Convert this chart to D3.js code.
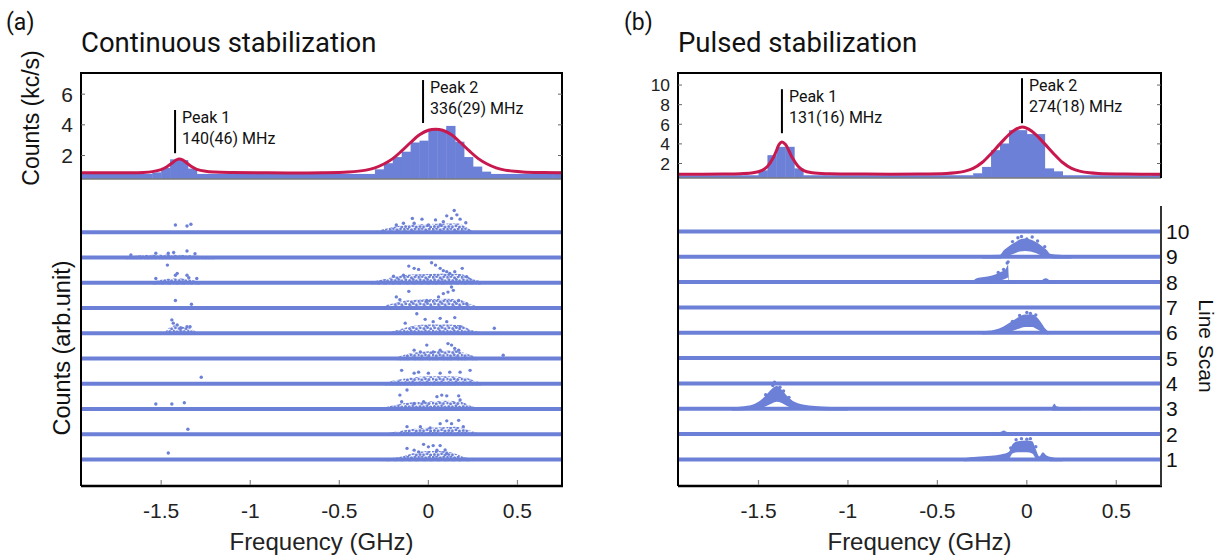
<!DOCTYPE html>
<html><head><meta charset="utf-8">
<script src="https://cdn.jsdelivr.net/npm/d3@7"></script>
<style>body{margin:0;background:#fff}svg{display:block}</style>
</head><body>
<svg id="c" width="1228" height="559"></svg>
<script>
// ---------------- DATA ----------------
const freqDomain = [-1.95, 0.75];
const xTicks = [-1.5, -1, -0.5, 0, 0.5];
const xTickLabels = ["-1.5", "-1", "-0.5", "0", "0.5"];
const yTicksA = [2, 4, 6];
const yTicksB = [2, 4, 6, 8, 10];
const scanIds = [1, 2, 3, 4, 5, 6, 7, 8, 9, 10];

// histogram (kc/s), bin edges in GHz
const histEdgesA = [-1.95, -1.55, -1.50, -1.45, -1.40, -1.35, -1.30, -0.30, -0.25, -0.20, -0.15, -0.10, -0.05, 0.0, 0.05, 0.10, 0.15, 0.20, 0.25, 0.30, 0.35, 0.70, 0.75];
const histCountsA = [0.8, 0.9, 1.2, 1.75, 1.7, 1.15, 0.8, 1.1, 1.5, 1.9, 2.25, 2.85, 2.97, 3.67, 3.67, 3.93, 2.9, 1.9, 1.28, 0.95, 0.8, 0.95];
const histEdgesB = [-1.95, -1.50, -1.45, -1.40, -1.35, -1.30, -1.25, -0.30, -0.25, -0.20, -0.15, -0.10, -0.05, 0.0, 0.05, 0.10, 0.15, 0.20, 0.70, 0.75];
const histCountsB = [0.8, 1.3, 2.85, 3.7, 3.7, 1.5, 0.8, 1.0, 1.65, 3.36, 4.04, 5.4, 5.4, 5.0, 5.0, 1.5, 1.2, 0.8, 0.95];

// fit curves [GHz, kc/s]
const fitA = [[-1.95,0.87],[-1.7,0.88],[-1.6,0.9],[-1.55,0.95],[-1.5,1.08],[-1.47,1.25],[-1.44,1.5],[-1.42,1.68],[-1.40,1.78],[-1.38,1.72],[-1.36,1.55],[-1.33,1.28],[-1.30,1.1],[-1.25,0.97],[-1.2,0.92],[-1.1,0.89],[-0.9,0.87],[-0.6,0.88],[-0.45,0.93],[-0.35,1.05],[-0.3,1.2],[-0.25,1.45],[-0.2,1.8],[-0.15,2.3],[-0.1,2.85],[-0.05,3.35],[0,3.65],[0.04,3.71],[0.08,3.65],[0.13,3.35],[0.18,2.85],[0.23,2.3],[0.28,1.8],[0.33,1.45],[0.38,1.2],[0.43,1.05],[0.53,0.93],[0.65,0.89],[0.75,0.88]];
const fitB = [[-1.95,0.9],[-1.7,0.92],[-1.6,0.96],[-1.53,1.05],[-1.48,1.3],[-1.45,1.7],[-1.42,2.5],[-1.40,3.3],[-1.385,3.95],[-1.369,4.2],[-1.35,3.95],[-1.33,3.3],[-1.31,2.55],[-1.28,1.75],[-1.25,1.3],[-1.2,1.05],[-1.1,0.95],[-0.9,0.92],[-0.6,0.92],[-0.45,0.98],[-0.4,1.05],[-0.35,1.2],[-0.3,1.5],[-0.25,2.1],[-0.2,3.0],[-0.15,4.0],[-0.1,4.95],[-0.06,5.5],[-0.025,5.73],[0.01,5.5],[0.05,4.95],[0.1,4.0],[0.15,3.0],[0.2,2.1],[0.25,1.5],[0.3,1.2],[0.35,1.05],[0.4,0.98],[0.55,0.92],[0.75,0.91]];

// peak annotations: [freq, yLow, yHigh, line1, line2]
const peaksA = [[-1.422, 2.15, 4.97, "Peak 1", "140(46) MHz"], [-0.030, 4.12, 6.92, "Peak 2", "336(29) MHz"]];
const peaksB = [[-1.369, 5.09, 9.58, "Peak 1", "131(16) MHz"], [-0.027, 6.11, 10.7, "Peak 2", "274(18) MHz"]];

// line-scan dense regions: per scan (1..10), segments of [GHz, upper amplitude]
const bandsA = [
  [[[-0.26,0.03],[-0.15,0.12],[-0.08,0.26],[0,0.34],[0.08,0.34],[0.14,0.26],[0.2,0.1],[0.25,0.03]]],
  [[[-0.24,0.04],[-0.15,0.14],[-0.05,0.24],[0.05,0.27],[0.15,0.3],[0.22,0.18],[0.28,0.04]]],
  [[[-0.26,0.04],[-0.18,0.18],[-0.1,0.26],[0,0.3],[0.1,0.33],[0.18,0.3],[0.24,0.12],[0.28,0.04]]],
  [[[-0.25,0.04],[-0.18,0.15],[-0.1,0.24],[0,0.3],[0.1,0.3],[0.2,0.26],[0.26,0.12],[0.3,0.04]]],
  [[[-0.18,0.04],[-0.12,0.18],[-0.05,0.26],[0.05,0.3],[0.15,0.33],[0.22,0.18],[0.28,0.04]]],
  [[[-1.48,0.03],[-1.45,0.24],[-1.42,0.32],[-1.38,0.26],[-1.33,0.17],[-1.3,0.03]],[[-0.22,0.04],[-0.15,0.18],[-0.08,0.3],[0,0.35],[0.1,0.35],[0.18,0.32],[0.24,0.14],[0.3,0.04]]],
  [[[-0.28,0.04],[-0.2,0.18],[-0.12,0.3],[0,0.35],[0.1,0.37],[0.18,0.32],[0.24,0.14],[0.3,0.04]]],
  [[[-1.55,0.03],[-1.5,0.12],[-1.42,0.18],[-1.35,0.14],[-1.28,0.03]],[[-0.32,0.04],[-0.25,0.14],[-0.18,0.26],[-0.1,0.33],[0,0.35],[0.1,0.37],[0.18,0.35],[0.24,0.18],[0.3,0.04]]],
  [[[-1.7,0.03],[-1.6,0.1],[-1.45,0.12],[-1.3,0.07],[-1.2,0.03]]],
  [[[-0.30,0.04],[-0.24,0.14],[-0.18,0.24],[-0.1,0.3],[0,0.33],[0.1,0.35],[0.17,0.35],[0.21,0.21],[0.25,0.04]]]
];
// sparse points: per scan, [GHz, amplitude]
const dotsA = [
  [[-0.12,0.44],[-0.08,0.37],[-0.027,0.6],[0,0.5],[0.027,0.55],[0.066,0.55],[0.094,0.38],[-0.055,0.3],[0.048,0.37],[0.103,0.24],[-1.46,0.26]],
  [[0.066,0.42],[0.103,0.53],[0.13,0.42],[0.17,0.55],[0.196,0.3],[-0.12,0.3],[-0.045,0.3],[0.01,0.25],[-1.35,0.2]],
  [[-0.12,0.75],[-0.16,0.55],[-0.15,0.29],[0.048,0.49],[0.075,0.55],[0.103,0.52],[0.17,0.52],[0.178,0.36],[-0.08,0.22],[-0.027,0.29],[-1.53,0.2],[-1.44,0.2],[-1.37,0.25]],
  [[-0.15,0.53],[-0.08,0.42],[-0.055,0.46],[0,0.42],[0.066,0.42],[0.12,0.46],[0.178,0.46],[0.234,0.53],[-1.275,0.26]],
  [[-0.009,0.53],[-0.08,0.33],[-0.045,0.26],[0.027,0.26],[0.11,0.59],[0.13,0.53],[0.148,0.4],[0.17,0.33],[0.066,0.33],[0.42,0.13]],
  [[-0.065,0.77],[-0.13,0.4],[-0.018,0.55],[0.027,0.46],[0.066,0.59],[0.103,0.46],[0.148,0.62],[0.178,0.26],[0.37,0.2],[-1.44,0.53],[-1.432,0.4],[-1.41,0.33],[-1.39,0.2],[-1.355,0.26],[-1.338,0.26]],
  [[-0.11,0.66],[-0.18,0.44],[-0.16,0.33],[0.057,0.44],[0.084,0.57],[0.11,0.63],[0.13,0.83],[0.14,0.7],[-0.009,0.3],[0.17,0.3],[0.215,0.17],[-1.42,0.3],[-1.33,0.15]],
  [[-0.11,0.66],[-0.08,0.57],[-0.055,0.53],[0.018,0.79],[0.04,0.7],[0.066,0.57],[0.084,0.48],[0.103,0.44],[0.12,0.37],[0.148,0.44],[0.19,0.57],[-0.14,0.3],[-0.196,0.26],[0.215,0.24],[-1.465,0.7],[-1.42,0.3],[-1.41,0.37],[-1.355,0.3],[-1.345,0.2],[-1.3,0.17],[-1.53,0.17]],
  [[-1.53,0.17],[-1.46,0.17],[-1.43,0.2],[-1.355,0.26],[-1.31,0.15],[-1.67,0.1]],
  [[-0.09,0.55],[-0.18,0.29],[-0.08,0.36],[-0.036,0.52],[0,0.29],[0.04,0.49],[0.066,0.29],[0.103,0.65],[0.13,0.55],[0.145,0.86],[0.16,0.69],[0.178,0.52],[0.21,0.38],[-0.14,0.36],[0.084,0.42],[-1.42,0.29],[-1.355,0.25],[-1.333,0.32]]
];
// pulsed scans: segments of [GHz, lower, upper amplitude]
const bandsB = [
  [[[-0.35,0,0.05],[-0.28,0.02,0.1],[-0.2,0.04,0.14],[-0.14,0.06,0.2],[-0.1,0.1,0.3],[-0.08,0.3,0.6],[-0.05,0.35,0.72],[0.0,0.35,0.75],[0.03,0.3,0.72],[0.05,0.1,0.4],[0.07,0.02,0.12],[0.09,0.05,0.28],[0.11,0.02,0.15],[0.16,0,0.06],[0.2,0,0.04]]],
  [[[-0.2,0,0.04],[-0.15,0,0.08],[-0.128,0,0.14],[-0.11,0,0.08],[-0.05,0,0.04]]],
  [[[-1.65,0,0.05],[-1.58,0.01,0.1],[-1.52,0.04,0.2],[-1.48,0.1,0.38],[-1.45,0.2,0.6],[-1.42,0.3,0.82],[-1.40,0.35,0.9],[-1.37,0.3,0.75],[-1.34,0.18,0.5],[-1.31,0.1,0.32],[-1.27,0.05,0.2],[-1.2,0.02,0.12],[-1.1,0,0.07],[-1.0,0,0.04]],[[0.14,0,0.04],[0.155,0,0.2],[0.165,0,0.1],[0.2,0,0.06],[0.3,0,0.04]]],
  [],
  [],
  [[[-0.25,0,0.06],[-0.18,0.02,0.12],[-0.13,0.06,0.25],[-0.09,0.12,0.42],[-0.05,0.22,0.6],[-0.01,0.3,0.72],[0.03,0.3,0.72],[0.06,0.2,0.58],[0.085,0.1,0.35],[0.105,0.02,0.15],[0.12,0,0.05]]],
  [],
  [[[-0.30,0,0.05],[-0.28,0.03,0.15],[-0.24,0.05,0.2],[-0.2,0.08,0.25],[-0.17,0.1,0.32],[-0.14,0.15,0.42],[-0.12,0.2,0.5],[-0.105,0.25,0.68],[-0.10,0,0.1],[-0.09,0,0.05]],[[0.08,0,0.04],[0.106,0,0.15],[0.13,0,0.04]]],
  [[[-0.25,0,0.06],[-0.15,0,0.08],[-0.13,0.05,0.25],[-0.10,0.12,0.42],[-0.07,0.2,0.55],[-0.04,0.28,0.68],[-0.01,0.3,0.72],[0.02,0.28,0.68],[0.05,0.22,0.58],[0.08,0.12,0.45],[0.11,0.05,0.28],[0.13,0.02,0.12],[0.18,0,0.08],[0.25,0,0.04]]],
  []
];
const dotsB = [
  [[-0.06,0.78],[-0.03,0.82],[0.0,0.8],[0.02,0.82],[-0.09,0.45],[0.05,0.5]],
  [],
  [[-1.42,0.92],[-1.41,1.05],[-1.38,0.85],[-1.36,0.7],[-1.46,0.55],[-1.33,0.45]],
  [], [],
  [[-0.04,0.68],[0.0,0.8],[0.02,0.76],[0.05,0.7],[-0.08,0.45]],
  [],
  [[-0.11,0.75],[-0.105,0.8],[-0.13,0.5],[-0.16,0.38]],
  [[-0.08,0.6],[-0.05,0.75],[-0.03,0.8],[0.0,0.7],[0.03,0.78],[0.06,0.62],[0.1,0.4]],
  []
];

// ---------------- DRAW ----------------
const BLUE = "#6b80d6", RED = "#c8194f";
const FONT = "Roboto, 'Liberation Sans', sans-serif";
const NUMF = "'Liberation Sans', Arial, sans-serif";
const svg = d3.select("#c");

// dotted texture for the point clouds of the continuous scans
const gdefs = svg.append("defs");
const cloudTile = [[1,1.2],[4.6,0.4],[8.2,1.8],[11.8,0.8],[2.6,3.8],[6.4,4.6],[10,3.4],[13.2,4.8],[0.8,7],[4.2,7.8],[7.8,6.8],[11.4,7.6],[2.4,10.4],[6,10.8],[9.6,9.8],[13,11]];
const pat = gdefs.append("pattern").attr("id", "cloudA").attr("patternUnits", "userSpaceOnUse")
  .attr("width", 14.4).attr("height", 12);
cloudTile.forEach(q => pat.append("circle").attr("cx", q[0]).attr("cy", q[1]).attr("r", 1.5).attr("fill", BLUE));

function panel(o) {
  const g = svg.append("g");
  const x = d3.scaleLinear().domain(freqDomain).range([o.left, o.right]);
  const yT = d3.scaleLinear().domain(o.topDomain).range([o.mid, o.top]);
  const yL = d3.scaleLinear().domain([-0.05, 12.11]).range([o.bottom, o.mid]);
  const id = o.name;
  const defs = g.append("defs");
  defs.append("clipPath").attr("id", "ct" + id).append("rect")
    .attr("x", o.left).attr("y", o.top).attr("width", o.right - o.left).attr("height", o.mid - o.top);
  defs.append("clipPath").attr("id", "cl" + id).append("rect")
    .attr("x", o.left).attr("y", o.mid).attr("width", o.right - o.left).attr("height", o.bottom - o.mid);

  // histogram
  const bins = o.counts.map((c, i) => [o.edges[i], o.edges[i + 1], c]);
  const tg = g.append("g").attr("clip-path", `url(#ct${id})`);
  tg.selectAll("rect.h").data(bins).join("rect")
    .attr("x", d => x(d[0])).attr("width", d => x(d[1]) - x(d[0]) + 0.4)
    .attr("y", d => yT(d[2])).attr("height", d => o.mid - yT(d[2]))
    .attr("fill", BLUE);
  tg.append("path").datum(o.fit)
    .attr("d", d3.line().x(d => x(d[0])).y(d => yT(d[1])).curve(d3.curveCatmullRom))
    .attr("fill", "none").attr("stroke", RED).attr("stroke-width", 3);

  // lower scans
  const lg = g.append("g").attr("clip-path", `url(#cl${id})`);
  scanIds.forEach((k, i) => {
    lg.append("line").attr("x1", o.left).attr("x2", o.right)
      .attr("y1", yL(k)).attr("y2", yL(k)).attr("stroke", BLUE).attr("stroke-width", 4);
    (o.bands[i] || []).forEach(seg => {
      const area = d3.area().x(d => x(d[0]))
        .y0(d => yL(k + (d.length > 2 ? d[1] : 0) - 0.07))
        .y1(d => yL(k + (d.length > 2 ? d[2] : d[1])))
        .curve(d3.curveMonotoneX);
      lg.append("path").datum(seg).attr("d", area).attr("fill", o.cloud);
    });
    lg.selectAll(null).data(o.dots[i] || []).join("circle")
      .attr("cx", d => x(d[0])).attr("cy", d => yL(k + d[1])).attr("r", 1.7).attr("fill", BLUE);
  });

  // gray separator between top and bottom
  g.append("line").attr("x1", o.left).attr("x2", o.right).attr("y1", o.mid).attr("y2", o.mid)
    .attr("stroke", "#7a7a7a").attr("stroke-width", 1.5);

  // frame
  g.append("path").attr("d", `M${o.left},${o.bottom}V${o.top}H${o.right}V${o.mid}`)
    .attr("fill", "none").attr("stroke", "#000").attr("stroke-width", 2);
  g.append("line").attr("x1", o.left).attr("x2", o.right + 1).attr("y1", o.bottom).attr("y2", o.bottom)
    .attr("stroke", "#000").attr("stroke-width", 2.5);
  if (o.rightFull) {
    g.append("line").attr("x1", o.right).attr("x2", o.right).attr("y1", o.mid).attr("y2", o.bottom)
      .attr("stroke", "#000").attr("stroke-width", 2);
  } else {
    g.append("line").attr("x1", o.right).attr("x2", o.right).attr("y1", yL(11)).attr("y2", o.bottom)
      .attr("stroke", "#333").attr("stroke-width", 2);
    g.selectAll(null).data(scanIds).join("text")
      .attr("x", o.right + 5).attr("y", d => yL(d)).attr("dy", "0.36em")
      .attr("font-family", NUMF).attr("font-size", 21).attr("fill", "#111").text(d => d);
    g.append("text").attr("transform", `translate(${o.right + 38},346) rotate(90)`)
      .attr("text-anchor", "middle").attr("font-family", NUMF).attr("font-size", 21).attr("fill", "#111")
      .text("Line Scan");
  }

  // y ticks top
  o.yTicks.forEach(t => {
    const yy = yT(t);
    g.append("line").attr("x1", o.left).attr("x2", o.left + 4).attr("y1", yy).attr("y2", yy).attr("stroke", "#666");
    g.append("line").attr("x1", o.right - 4).attr("x2", o.right).attr("y1", yy).attr("y2", yy).attr("stroke", "#666");
    g.append("text").attr("x", o.left - 8).attr("y", yy).attr("dy", "0.36em").attr("text-anchor", "end")
      .attr("font-family", NUMF).attr("font-size", o.yFont).attr("fill", "#222").text(t);
  });
  // x ticks
  xTicks.forEach((t, i) => {
    g.append("line").attr("x1", x(t)).attr("x2", x(t)).attr("y1", o.bottom - 1).attr("y2", o.bottom - 6).attr("stroke", "#888").attr("stroke-width", 1.2);
    g.append("text").attr("x", x(t)).attr("y", 518).attr("text-anchor", "middle")
      .attr("font-family", NUMF).attr("font-size", 21).attr("fill", "#222").text(xTickLabels[i]);
  });
  g.append("text").attr("x", (o.left + o.right) / 2).attr("y", 550).attr("text-anchor", "middle")
    .attr("font-family", NUMF).attr("font-size", 24).attr("fill", "#222").text("Frequency (GHz)");

  // peak annotations
  o.peaks.forEach(p => {
    g.append("line").attr("x1", x(p[0])).attr("x2", x(p[0])).attr("y1", yT(p[1])).attr("y2", yT(p[2]))
      .attr("stroke", "#000").attr("stroke-width", 2);
    g.append("text").attr("x", x(p[0]) + 7).attr("y", yT(p[2]) + 13).attr("font-family", FONT)
      .attr("font-size", 16).attr("fill", "#111").text(p[3]);
    g.append("text").attr("x", x(p[0]) + 7).attr("y", yT(p[2]) + 34).attr("font-family", FONT)
      .attr("font-size", 16).attr("fill", "#111").text(p[4]);
  });

  // titles
  g.append("text").attr("x", o.left).attr("y", 52).attr("font-family", FONT).attr("font-size", 27.5)
    .attr("fill", "#111").text(o.title);
  g.append("text").attr("x", o.labelX).attr("y", 30).attr("font-family", FONT).attr("font-size", 23)
    .attr("fill", "#111").text(o.label);
  return {x, yT, yL};
}

panel({name: "a", left: 81, right: 562, top: 73, mid: 179, bottom: 486,
  topDomain: [0.47, 7.38], edges: histEdgesA, counts: histCountsA, fit: fitA,
  bands: bandsA, dots: dotsA, cloud: "url(#cloudA)", yTicks: yTicksA, yFont: 21, peaks: peaksA,
  rightFull: true, title: "Continuous stabilization", label: "(a)", labelX: 6});
panel({name: "b", left: 678, right: 1161, top: 73, mid: 178, bottom: 486,
  topDomain: [0.52, 11.23], edges: histEdgesB, counts: histCountsB, fit: fitB,
  bands: bandsB, dots: dotsB, cloud: BLUE, yTicks: yTicksB, yFont: 17.4, peaks: peaksB,
  rightFull: false, title: "Pulsed stabilization", label: "(b)", labelX: 624});

// left axis titles
svg.append("text").attr("transform", "translate(39,118) rotate(-90)").attr("text-anchor", "middle")
  .attr("font-family", NUMF).attr("font-size", 23).attr("fill", "#111").text("Counts (kc/s)");
svg.append("text").attr("transform", "translate(70,348) rotate(-90)").attr("text-anchor", "middle")
  .attr("font-family", NUMF).attr("font-size", 23.5).attr("fill", "#111").text("Counts (arb.unit)");
</script>
</body></html>
